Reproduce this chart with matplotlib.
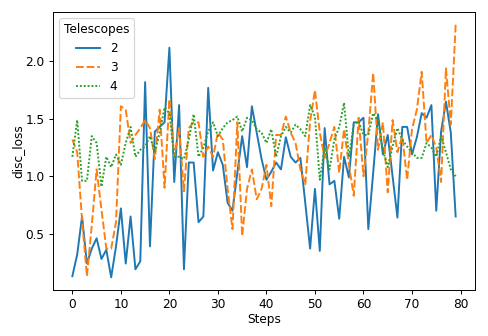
import numpy as np
import matplotlib
matplotlib.use("Agg")
import matplotlib.pyplot as plt

steps = np.arange(80)

loss_2 = [0.13, 0.32, 0.65, 0.24, 0.37, 0.46, 0.28, 0.36, 0.12, 0.39,
          0.72, 0.24, 0.65, 0.19, 0.26, 1.82, 0.39, 1.39, 1.43, 1.47,
          2.12, 0.95, 1.62, 0.19, 1.12, 1.12, 0.60, 0.65, 1.77, 1.05,
          1.21, 1.10, 0.77, 0.70, 1.03, 1.35, 1.08, 1.61, 1.38, 1.15,
          0.97, 1.04, 1.12, 1.06, 1.34, 1.17, 1.12, 1.16, 0.77, 0.37,
          0.89, 0.35, 1.42, 0.93, 0.96, 0.63, 1.17, 0.99, 1.47, 1.47,
          1.51, 0.54, 1.03, 1.54, 1.19, 1.36, 1.00, 0.64, 1.43, 1.43,
          1.19, 1.34, 1.55, 1.51, 1.62, 0.70, 1.39, 1.65, 1.38, 0.65]

loss_3 = [1.32, 1.21, 0.62, 0.13, 0.57, 1.06, 0.71, 0.37, 0.37, 0.60,
          1.61, 1.58, 1.29, 1.36, 1.42, 1.49, 1.42, 1.15, 1.58, 0.90,
          1.67, 1.17, 1.42, 0.87, 1.42, 1.47, 1.47, 1.17, 1.26, 1.17,
          1.38, 1.32, 0.89, 0.54, 1.47, 0.48, 0.89, 1.06, 0.80, 0.89,
          1.10, 0.74, 1.36, 1.36, 1.52, 1.38, 1.29, 1.06, 0.93, 1.48,
          1.75, 1.38, 1.16, 1.29, 1.43, 1.03, 1.41, 1.10, 0.83, 1.51,
          1.00, 1.38, 1.90, 1.23, 1.47, 0.86, 1.49, 1.21, 1.35, 0.97,
          1.41, 1.58, 1.91, 1.29, 1.36, 1.25, 0.95, 1.94, 1.45, 2.32]

loss_4 = [1.17, 1.49, 0.96, 0.96, 1.35, 1.29, 0.91, 1.17, 1.08, 1.19,
          1.10, 1.29, 1.43, 1.17, 1.23, 1.26, 1.35, 1.21, 1.38, 1.60,
          1.55, 1.17, 1.17, 1.15, 1.32, 1.54, 1.17, 1.25, 1.39, 1.47,
          1.35, 1.42, 1.47, 1.49, 1.52, 1.39, 1.51, 1.49, 1.41, 1.38,
          1.29, 1.41, 1.17, 1.35, 1.43, 1.38, 1.45, 1.41, 1.35, 1.62,
          1.52, 0.97, 1.25, 1.06, 1.32, 1.43, 1.64, 1.17, 1.45, 1.48,
          1.36, 1.36, 1.55, 1.49, 1.23, 1.08, 1.26, 1.42, 1.32, 1.26,
          1.21, 1.16, 1.16, 1.29, 1.25, 1.17, 1.35, 1.21, 1.06, 1.00]

telescopes = ["2", "3", "4"]

# the reference looks like a slightly shrunk default figure, so draw at a lower dpi
dpi = 87
fig = plt.figure(figsize=(488 / dpi, 336 / dpi), dpi=dpi)
ax = fig.add_axes([0.109, 0.137, 0.864, 0.827])

ax.plot(steps, loss_2, color="#1f77b4", lw=1.6, label=telescopes[0])
ax.plot(steps, loss_3, color="#ff7f0e", lw=1.6, dashes=(4, 1.5), label=telescopes[1])
ax.plot(steps, loss_4, color="#2ca02c", lw=1.6, dashes=(1, 1), label=telescopes[2])

ax.set_xlabel("Steps", labelpad=1)
ax.set_ylabel("disc_loss", labelpad=1)
ax.set_xticks(range(0, 81, 10))
ax.set_yticks([0.5, 1.0, 1.5, 2.0])
ax.legend(title="Telescopes", loc="upper left")

fig.savefig("out.png", dpi=dpi)
